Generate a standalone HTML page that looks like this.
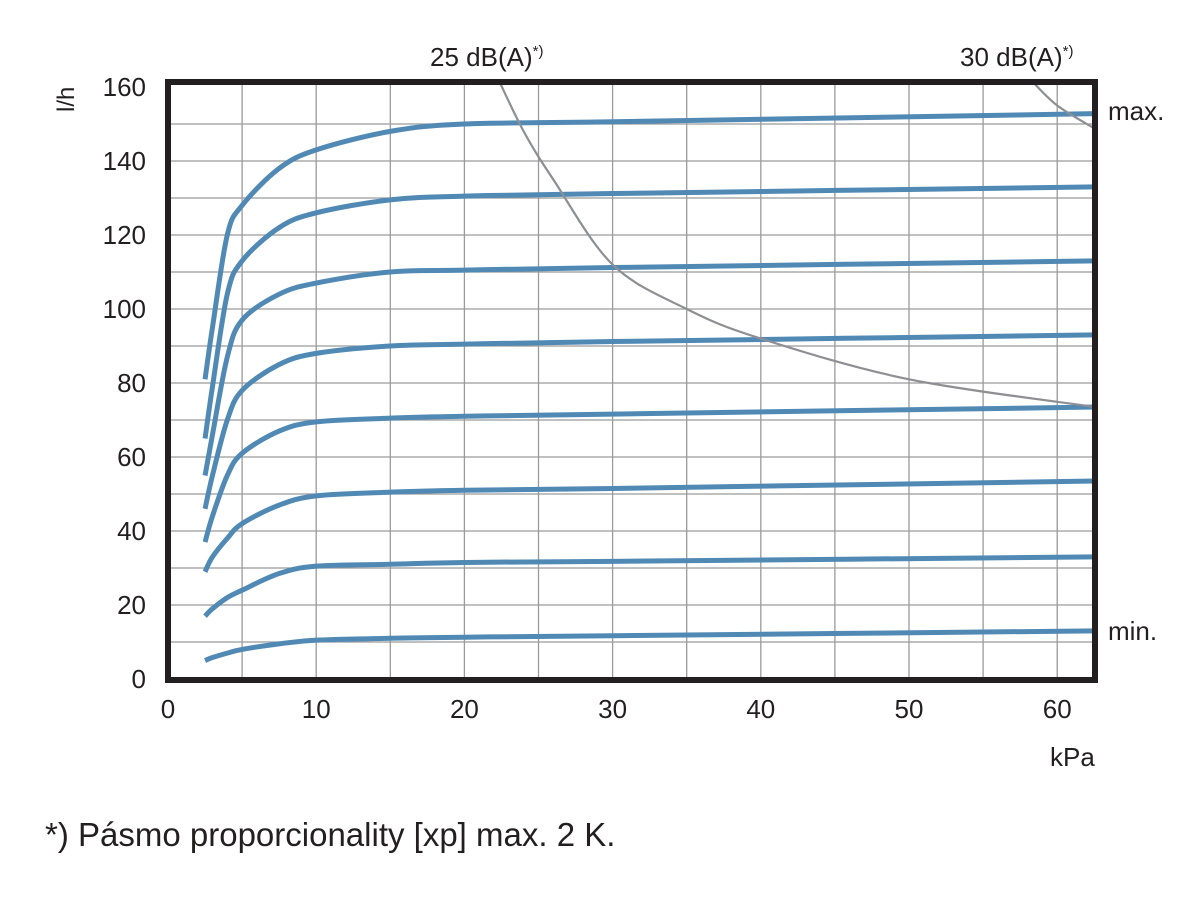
<!DOCTYPE html>
<html><head><meta charset="utf-8"><style>
body{margin:0;background:#fff;}
svg text{font-family:"Liberation Sans",sans-serif;fill:#231f20;}
</style></head><body>
<svg id="chart" width="1200" height="892" xmlns="http://www.w3.org/2000/svg">
<defs><clipPath id="plotclip"><rect x="168" y="82" width="927" height="598"/></clipPath></defs>
<g id="grid"></g>
<g id="series" clip-path="url(#plotclip)"></g>
<rect x="168" y="82" width="927" height="598" fill="none" stroke="#231f20" stroke-width="6"/>
<g id="yticks"></g>
<g id="xticks"></g>
<text transform="translate(74,112) rotate(-90)" font-size="24">l/h</text>
<text x="1050" y="766" font-size="26">kPa</text>
<text x="430" y="66" font-size="26">25 dB(A)<tspan font-size="15" dy="-10">*)</tspan></text>
<text x="960" y="66" font-size="26">30 dB(A)<tspan font-size="15" dy="-10">*)</tspan></text>
<text x="1108" y="120" font-size="26">max.</text>
<text x="1108" y="640" font-size="26">min.</text>
<text x="45" y="846" font-size="33">*) Pásmo proporcionality [xp] max. 2 K.</text>
</svg>
<script>
const xTicks=[0,10,20,30,40,50,60];
const yTicks=[0,20,40,60,80,100,120,140,160];
const xs=[2.5,3,4,5,7.5,10,15,20,30,62.6];
const s1=[5,5.8,7,8,9.5,10.5,11,11.3,11.7,13];
const s2=[17,19,22,24,28.5,30.5,31,31.5,31.8,33];
const s3=[29,33,38,42,47,49.5,50.5,51,51.5,53.5];
const s4=[37,44,55,61,67,69.5,70.5,71,71.6,73.5];
const s5=[46,55,70,78,85,88,90,90.5,91.2,93];
const s6=[55,66,87,97,104,107,110,110.5,111.2,113];
const s7=[65,79,104,113,122,126,129.5,130.5,131.2,133];
const s8=[81,95,120,128,138,143,148,150,150.6,152.8];
const n25x=[22.3,24,26,30,35,40,50,62.6];
const n25y=[162,148,135,112,100,92,81,73.5];
const n30x=[58.2,60,62.6];
const n30y=[162,155,148.6];
const X=v=>168+v*14.82, Y=v=>679-v*3.7;
const NS='http://www.w3.org/2000/svg';
function mk(t,a,p){const e=document.createElementNS(NS,t);for(const k in a)e.setAttribute(k,a[k]);p.appendChild(e);return e;}
const grid=document.getElementById('grid');
for(let v=5;v<63;v+=5){const l=mk('line',{x1:X(v),x2:X(v),y1:82,y2:680,stroke:'#9a9a9c','stroke-width':1.3},grid);

}
for(let v=10;v<160;v+=10){const l=mk('line',{x1:168,x2:1095,y1:Y(v),y2:Y(v),stroke:'#9a9a9c','stroke-width':1.3},grid);

}
const yt=document.getElementById('yticks');
yTicks.forEach(v=>{const t=mk('text',{x:146,y:Y(v)+9,'text-anchor':'end','font-size':26},yt);t.textContent=v;

});
const xt=document.getElementById('xticks');
xTicks.forEach(v=>{const t=mk('text',{x:X(v),y:718,'text-anchor':'middle','font-size':26},xt);t.textContent=v;

});
function path(px,py){const p=px.map((x,i)=>[X(x),Y(py[i])]);let d='M'+p[0][0]+','+p[0][1];
for(let i=0;i<p.length-1;i++){const p0=p[Math.max(0,i-1)],p1=p[i],p2=p[i+1],p3=p[Math.min(p.length-1,i+2)];
d+=' C'+(p1[0]+(p2[0]-p0[0])/6)+','+(p1[1]+(p2[1]-p0[1])/6)+' '+(p2[0]-(p3[0]-p1[0])/6)+','+(p2[1]-(p3[1]-p1[1])/6)+' '+p2[0]+','+p2[1];}return d;}
const sg=document.getElementById('series');
[s1,s2,s3,s4,s5,s6,s7,s8].forEach((s,i)=>{const e=mk('path',{d:path(xs,s),fill:'none',stroke:'#5189b5','stroke-width':5,'stroke-linecap':'butt'},sg);

});
const g1=mk('path',{d:path(n25x,n25y),fill:'none',stroke:'#8e8f94','stroke-width':2.2},sg);


const g2=mk('path',{d:path(n30x,n30y),fill:'none',stroke:'#8e8f94','stroke-width':2.2},sg);


</script>
</body></html>
